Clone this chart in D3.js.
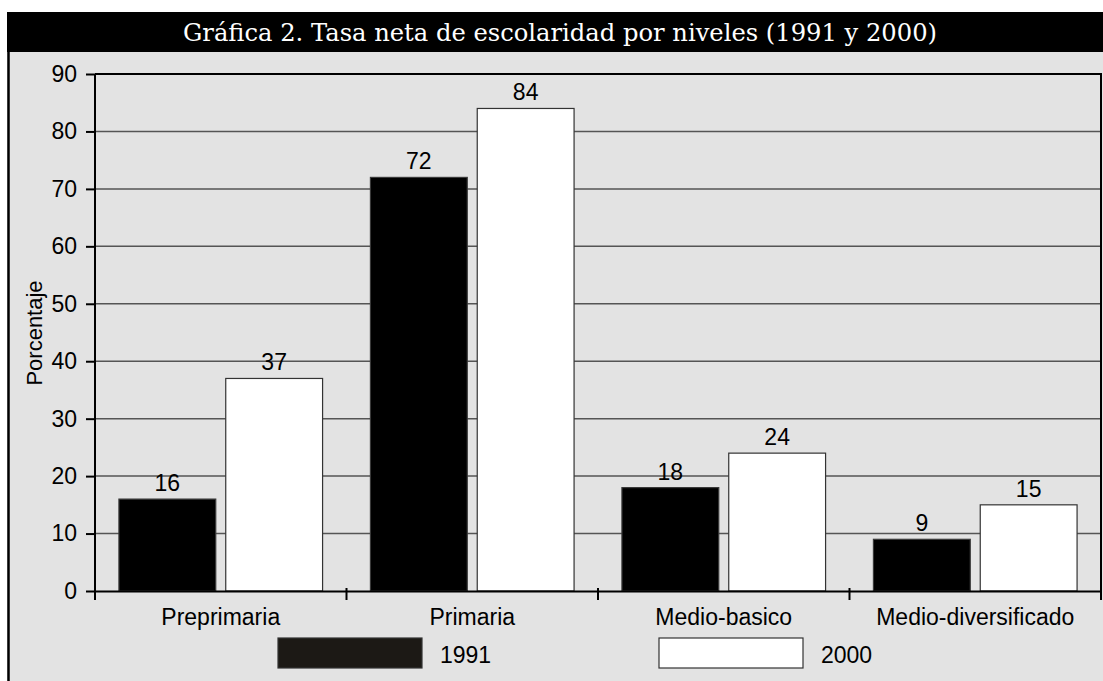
<!DOCTYPE html>
<html>
<head>
<meta charset="utf-8">
<script src="https://cdn.jsdelivr.net/npm/d3@7"></script>
<style>
  html, body { margin: 0; padding: 0; background: #ffffff; }
  svg { display: block; }
  text { font-family: "Liberation Sans", Arial, sans-serif; }
</style>
</head>
<body>
<svg id="chart" width="1103" height="681"></svg>
<script>
// ---- data ----
const title = "Gráfica 2. Tasa neta de escolaridad por niveles (1991 y 2000)";
const categories = ["Preprimaria", "Primaria", "Medio-basico", "Medio-diversificado"];
const seriesNames = ["1991", "2000"];
const values1991 = [16, 72, 18, 9];
const values2000 = [37, 84, 24, 15];
const yTicks = [0, 10, 20, 30, 40, 50, 60, 70, 80, 90];
const yLabel = "Porcentaje";

const seriesValues = { "1991": values1991, "2000": values2000 };
const seriesFill = { "1991": "#000000", "2000": "#ffffff" };
const legendFill = { "1991": "#1c1915", "2000": "#ffffff" };

const FS = "23px";
const svg = d3.select("#chart");
const W = 1103, H = 681;

// panel
svg.append("rect").attr("x", 7).attr("y", 52).attr("width", W - 7).attr("height", H - 52).attr("fill", "#e3e3e3");
svg.append("line").attr("x1", 8.5).attr("x2", 8.5).attr("y1", 52).attr("y2", H)
  .attr("stroke", "#000").attr("stroke-width", 2.5);
// title bar
svg.append("rect").attr("x", 7).attr("y", 12).attr("width", W - 7).attr("height", 40).attr("fill", "#000");
svg.append("text").attr("x", 560).attr("y", 41).attr("text-anchor", "middle")
  .attr("fill", "#fff").style("font-family", "'DejaVu Serif', 'Liberation Serif', serif")
  .style("font-size", "25px")
  .attr("textLength", 754).attr("lengthAdjust", "spacingAndGlyphs")
  .text(title);

// scales
const plot = { left: 95, right: 1101, top: 74, bottom: 591 };
const x = d3.scaleBand().domain(categories).range([plot.left, plot.right]).padding(0);
const xs = d3.scaleBand().domain(seriesNames).range([0, x.bandwidth()])
  .paddingInner(0.0935).paddingOuter(0.224);
const y = d3.scaleLinear().domain([0, 90]).range([plot.bottom, plot.top]);

// gridlines
svg.append("g").selectAll("line").data(yTicks.filter(t => t > 0)).join("line")
  .attr("x1", plot.left).attr("x2", plot.right)
  .attr("y1", d => y(d)).attr("y2", d => y(d))
  .attr("stroke", "#555").attr("stroke-width", 1.5);

// bars
const rows = [];
categories.forEach((c, i) => seriesNames.forEach(s => rows.push({ c, s, v: seriesValues[s][i] })));

svg.append("g").selectAll("rect").data(rows).join("rect")
  .attr("x", d => x(d.c) + xs(d.s))
  .attr("y", d => y(d.v))
  .attr("width", xs.bandwidth())
  .attr("height", d => y(0) - y(d.v))
  .attr("fill", d => seriesFill[d.s])
  .attr("stroke", d => d.s === "1991" ? "#3a3a3a" : "#333")
  .attr("stroke-width", 1.2);

// value labels
svg.append("g").selectAll("text").data(rows).join("text")
  .attr("x", d => x(d.c) + xs(d.s) + xs.bandwidth() / 2)
  .attr("y", d => y(d.v) - 8)
  .attr("text-anchor", "middle")
  .style("font-size", FS).attr("fill", "#000")
  .text(d => d.v);

// plot border (top & right)
svg.append("path")
  .attr("d", `M${plot.left},${plot.top}H${plot.right}V${plot.bottom}`)
  .attr("fill", "none").attr("stroke", "#000").attr("stroke-width", 2);

// y axis
const yAxis = svg.append("g").attr("transform", `translate(${plot.left},0)`)
  .call(d3.axisLeft(y).tickValues(yTicks).tickSize(9).tickPadding(9).tickSizeOuter(0));
yAxis.select(".domain").remove();
yAxis.selectAll(".tick line").attr("stroke", "#000").attr("stroke-width", 2);
yAxis.selectAll("text").style("font-size", FS).style("font-family", "'Liberation Sans', Arial, sans-serif").attr("fill", "#000");
svg.append("line").attr("x1", plot.left).attr("x2", plot.left).attr("y1", plot.top).attr("y2", plot.bottom + 9)
  .attr("stroke", "#000").attr("stroke-width", 2);

// x axis
const xAxis = svg.append("g").attr("transform", `translate(0,${plot.bottom})`)
  .call(d3.axisBottom(x).tickSize(0).tickPadding(18));
xAxis.select(".domain").attr("stroke", "#000").attr("stroke-width", 2);
xAxis.selectAll("text").style("font-size", FS).style("font-family", "'Liberation Sans', Arial, sans-serif").attr("fill", "#000");
const boundaries = categories.map(c => x(c)).concat([x.range()[1]]).slice(1);
svg.append("g").selectAll("line").data(boundaries).join("line")
  .attr("x1", d => d).attr("x2", d => d)
  .attr("y1", plot.bottom - 3).attr("y2", plot.bottom + 9)
  .attr("stroke", "#000").attr("stroke-width", 2);

// y label
svg.append("text").attr("transform", "translate(42,333) rotate(-90)")
  .attr("text-anchor", "middle").style("font-size", "22px").attr("fill", "#000")
  .text(yLabel);

// legend
const legendX = d3.scalePoint().domain(seriesNames).range([278, 659]);
const lg = svg.append("g").selectAll("g").data(seriesNames).join("g")
  .attr("transform", d => `translate(${legendX(d)},638)`);
lg.append("rect").attr("width", 144).attr("height", 30)
  .attr("fill", d => legendFill[d]).attr("stroke", "#333").attr("stroke-width", 1.2);
lg.append("text").attr("x", 162).attr("y", 25)
  .style("font-size", FS).attr("fill", "#000").text(d => d);
</script>
</body>
</html>
